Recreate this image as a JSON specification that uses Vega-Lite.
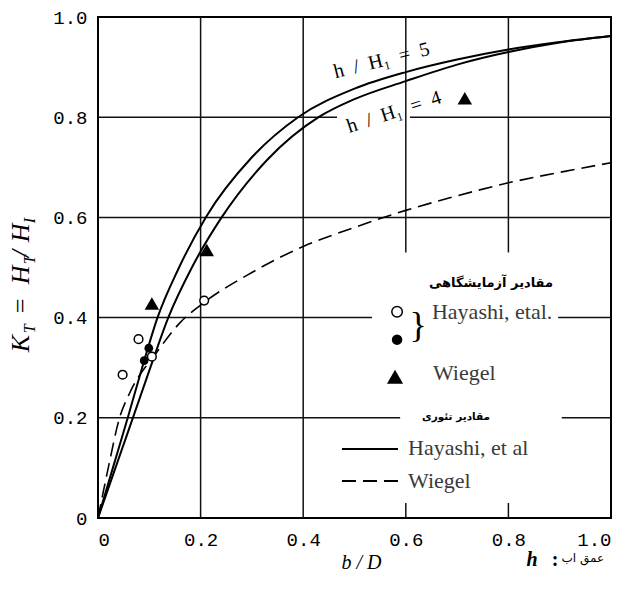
{
  "$schema": "https://vega.github.io/schema/vega-lite/v6.json",
  "autosize": {"type": "none"},
  "padding": {"left": 98, "top": 17, "right": 16, "bottom": 72},
  "width": 513,
  "height": 501,
  "background": "white",
  "config": {
    "view": {"stroke": "black", "strokeWidth": 2},
    "text": {"color": "black"}
  },
  "datasets": {
    "one": [{}],
    "grid": [
      {"x": 0.2, "x2": 0.2, "y": 0, "y2": 1},
      {"x": 0.4, "x2": 0.4, "y": 0, "y2": 1},
      {"x": 0.6, "x2": 0.6, "y": 0.53, "y2": 1},
      {"x": 0.6, "x2": 0.6, "y": 0, "y2": 0.03},
      {"x": 0.8, "x2": 0.8, "y": 0.53, "y2": 1},
      {"x": 0.8, "x2": 0.8, "y": 0, "y2": 0.03},
      {"x": 0, "x2": 0.589, "y": 0.2, "y2": 0.2},
      {"x": 0.904, "x2": 1, "y": 0.2, "y2": 0.2},
      {"x": 0, "x2": 0.534, "y": 0.4, "y2": 0.4},
      {"x": 0.897, "x2": 1, "y": 0.4, "y2": 0.4},
      {"x": 0, "x2": 1, "y": 0.6, "y2": 0.6},
      {"x": 0, "x2": 0.466, "y": 0.8, "y2": 0.8},
      {"x": 0.608, "x2": 1, "y": 0.8, "y2": 0.8}
    ],
    "hayashi_theory": [
      {"series": "h/H1=5", "x": 0, "y": 0},
      {"series": "h/H1=5", "x": 0.029, "y": 0.1},
      {"series": "h/H1=5", "x": 0.058, "y": 0.2},
      {"series": "h/H1=5", "x": 0.086, "y": 0.3},
      {"series": "h/H1=5", "x": 0.116, "y": 0.4},
      {"series": "h/H1=5", "x": 0.158, "y": 0.5},
      {"series": "h/H1=5", "x": 0.21, "y": 0.6},
      {"series": "h/H1=5", "x": 0.3, "y": 0.72},
      {"series": "h/H1=5", "x": 0.39, "y": 0.8},
      {"series": "h/H1=5", "x": 0.5, "y": 0.857},
      {"series": "h/H1=5", "x": 0.6, "y": 0.89},
      {"series": "h/H1=5", "x": 0.7, "y": 0.915},
      {"series": "h/H1=5", "x": 0.8, "y": 0.935},
      {"series": "h/H1=5", "x": 0.9, "y": 0.95},
      {"series": "h/H1=5", "x": 1.0, "y": 0.962},
      {"series": "h/H1=4", "x": 0, "y": 0},
      {"series": "h/H1=4", "x": 0.034, "y": 0.1},
      {"series": "h/H1=4", "x": 0.068, "y": 0.2},
      {"series": "h/H1=4", "x": 0.102, "y": 0.3},
      {"series": "h/H1=4", "x": 0.137, "y": 0.4},
      {"series": "h/H1=4", "x": 0.183, "y": 0.5},
      {"series": "h/H1=4", "x": 0.241, "y": 0.6},
      {"series": "h/H1=4", "x": 0.33, "y": 0.715},
      {"series": "h/H1=4", "x": 0.43, "y": 0.8},
      {"series": "h/H1=4", "x": 0.5, "y": 0.836},
      {"series": "h/H1=4", "x": 0.6, "y": 0.872},
      {"series": "h/H1=4", "x": 0.7, "y": 0.905},
      {"series": "h/H1=4", "x": 0.8, "y": 0.93},
      {"series": "h/H1=4", "x": 0.9, "y": 0.949},
      {"series": "h/H1=4", "x": 1.0, "y": 0.962}
    ],
    "wiegel_theory": [
      {"x": 0, "y": 0},
      {"x": 0.02, "y": 0.1},
      {"x": 0.042, "y": 0.2},
      {"x": 0.062, "y": 0.25},
      {"x": 0.114, "y": 0.33},
      {"x": 0.16, "y": 0.39},
      {"x": 0.2, "y": 0.425},
      {"x": 0.3, "y": 0.49},
      {"x": 0.4, "y": 0.542},
      {"x": 0.5, "y": 0.58},
      {"x": 0.6, "y": 0.614},
      {"x": 0.7, "y": 0.643},
      {"x": 0.8, "y": 0.669},
      {"x": 0.9, "y": 0.69},
      {"x": 1.0, "y": 0.709}
    ],
    "hayashi_open": [
      {"x": 0.048, "y": 0.286},
      {"x": 0.079, "y": 0.357},
      {"x": 0.105, "y": 0.322},
      {"x": 0.207, "y": 0.434}
    ],
    "hayashi_filled": [
      {"x": 0.099, "y": 0.339},
      {"x": 0.09, "y": 0.314}
    ],
    "wiegel_exp": [
      {"x": 0.105, "y": 0.428},
      {"x": 0.212, "y": 0.535},
      {"x": 0.715, "y": 0.838}
    ]
  },
  "layer": [
    {
      "data": {"name": "grid"},
      "mark": {"type": "rule", "stroke": "#111", "strokeWidth": 1.5},
      "encoding": {
        "x": {
          "field": "x", "type": "quantitative",
          "scale": {"domain": [0, 1], "nice": false, "zero": false},
          "axis": {
            "values": [0, 0.2, 0.4, 0.6, 0.8, 1],
            "labelExpr": "datum.value == 0 ? '0' : format(datum.value, '.1f')",
            "grid": false, "ticks": false, "domain": false,
            "labelFont": "Liberation Mono", "labelFontSize": 19, "labelColor": "black",
            "labelPadding": 12,
            "title": "b / D",
            "titleFont": "Liberation Serif", "titleFontStyle": "italic", "titleFontWeight": "normal",
            "titleFontSize": 20, "titleColor": "black", "titlePadding": 3, "titleX": 263
          }
        },
        "x2": {"field": "x2"},
        "y": {
          "field": "y", "type": "quantitative",
          "scale": {"domain": [0, 1], "nice": false, "zero": false},
          "axis": {
            "values": [0, 0.2, 0.4, 0.6, 0.8, 1],
            "labelExpr": "datum.value == 0 ? '0' : format(datum.value, '.1f')",
            "grid": false, "ticks": false, "domain": false,
            "labelFont": "Liberation Mono", "labelFontSize": 19, "labelColor": "black",
            "labelPadding": 11,
            "title": null
          }
        },
        "y2": {"field": "y2"}
      }
    },
    {
      "data": {"name": "wiegel_theory"},
      "mark": {"type": "line", "stroke": "black", "strokeWidth": 1.6, "strokeDash": [14, 7], "interpolate": "monotone"},
      "encoding": {
        "x": {"field": "x", "type": "quantitative", "scale": {"domain": [0, 1]}},
        "y": {"field": "y", "type": "quantitative", "scale": {"domain": [0, 1]}}
      }
    },
    {
      "data": {"name": "hayashi_theory"},
      "mark": {"type": "line", "stroke": "black", "strokeWidth": 2, "interpolate": "monotone"},
      "encoding": {
        "x": {"field": "x", "type": "quantitative", "scale": {"domain": [0, 1]}},
        "y": {"field": "y", "type": "quantitative", "scale": {"domain": [0, 1]}},
        "detail": {"field": "series"}
      }
    },
    {
      "data": {"name": "hayashi_open"},
      "mark": {"type": "point", "shape": "circle", "filled": false, "fill": "white", "stroke": "black", "strokeWidth": 1.5, "size": 75, "opacity": 1},
      "encoding": {
        "x": {"field": "x", "type": "quantitative", "scale": {"domain": [0, 1]}},
        "y": {"field": "y", "type": "quantitative", "scale": {"domain": [0, 1]}}
      }
    },
    {
      "data": {"name": "hayashi_filled"},
      "mark": {"type": "point", "shape": "circle", "filled": true, "fill": "black", "size": 75, "opacity": 1},
      "encoding": {
        "x": {"field": "x", "type": "quantitative", "scale": {"domain": [0, 1]}},
        "y": {"field": "y", "type": "quantitative", "scale": {"domain": [0, 1]}}
      }
    },
    {
      "data": {"name": "wiegel_exp"},
      "mark": {"type": "point", "shape": "triangle-up", "filled": true, "fill": "black", "size": 210, "opacity": 1},
      "encoding": {
        "x": {"field": "x", "type": "quantitative", "scale": {"domain": [0, 1]}},
        "y": {"field": "y", "type": "quantitative", "scale": {"domain": [0, 1]}}
      }
    },
    {
      "data": {"name": "one"},
      "mark": {"type": "text", "text": "h\u2002/\u2002H₁\u2002=\u20025", "font": "Liberation Serif", "fontSize": 20, "angle": 346, "align": "center", "baseline": "middle"},
      "encoding": {"x": {"datum": 0.553, "scale": {"domain": [0, 1]}}, "y": {"datum": 0.913, "scale": {"domain": [0, 1]}}}
    },
    {
      "data": {"name": "one"},
      "mark": {"type": "text", "text": "h\u2002/\u2002H₁\u2002=\u20024", "font": "Liberation Serif", "fontSize": 20, "angle": 342, "align": "center", "baseline": "middle"},
      "encoding": {"x": {"datum": 0.577, "scale": {"domain": [0, 1]}}, "y": {"datum": 0.81, "scale": {"domain": [0, 1]}}}
    },
    {
      "data": {"name": "one"},
      "mark": {"type": "text", "text": "مقادیر آزمایشگاهی", "font": "DejaVu Sans", "fontSize": 13, "fontWeight": "bold", "dir": "rtl", "align": "center", "baseline": "middle"},
      "encoding": {"x": {"datum": 0.766, "scale": {"domain": [0, 1]}}, "y": {"datum": 0.4695, "scale": {"domain": [0, 1]}}}
    },
    {
      "data": {"name": "one"},
      "mark": {"type": "point", "shape": "circle", "filled": false, "fill": "white", "stroke": "black", "strokeWidth": 1.5, "size": 110, "opacity": 1},
      "encoding": {"x": {"datum": 0.583, "scale": {"domain": [0, 1]}}, "y": {"datum": 0.4116, "scale": {"domain": [0, 1]}}}
    },
    {
      "data": {"name": "one"},
      "mark": {"type": "point", "shape": "circle", "filled": true, "fill": "black", "size": 110, "opacity": 1},
      "encoding": {"x": {"datum": 0.583, "scale": {"domain": [0, 1]}}, "y": {"datum": 0.356, "scale": {"domain": [0, 1]}}}
    },
    {
      "data": {"name": "one"},
      "mark": {"type": "text", "text": "}", "font": "Liberation Serif", "fontSize": 36, "align": "center", "baseline": "middle"},
      "encoding": {"x": {"datum": 0.624, "scale": {"domain": [0, 1]}}, "y": {"datum": 0.3836, "scale": {"domain": [0, 1]}}}
    },
    {
      "data": {"name": "one"},
      "mark": {"type": "text", "text": "Hayashi, etal.", "font": "Liberation Serif", "fontSize": 22, "color": "#3a3a3a", "align": "left", "baseline": "middle"},
      "encoding": {"x": {"datum": 0.651, "scale": {"domain": [0, 1]}}, "y": {"datum": 0.4116, "scale": {"domain": [0, 1]}}}
    },
    {
      "data": {"name": "one"},
      "mark": {"type": "point", "shape": "triangle-up", "filled": true, "fill": "black", "size": 260, "opacity": 1},
      "encoding": {"x": {"datum": 0.579, "scale": {"domain": [0, 1]}}, "y": {"datum": 0.282, "scale": {"domain": [0, 1]}}}
    },
    {
      "data": {"name": "one"},
      "mark": {"type": "text", "text": "Wiegel", "font": "Liberation Serif", "fontSize": 22, "color": "#3a3a3a", "align": "left", "baseline": "middle"},
      "encoding": {"x": {"datum": 0.653, "scale": {"domain": [0, 1]}}, "y": {"datum": 0.2897, "scale": {"domain": [0, 1]}}}
    },
    {
      "data": {"name": "one"},
      "mark": {"type": "text", "text": "مقادیر تئوری", "font": "DejaVu Sans", "fontSize": 10.5, "fontWeight": "bold", "dir": "rtl", "align": "center", "baseline": "middle"},
      "encoding": {"x": {"datum": 0.698, "scale": {"domain": [0, 1]}}, "y": {"datum": 0.2018, "scale": {"domain": [0, 1]}}}
    },
    {
      "data": {"name": "one"},
      "mark": {"type": "rule", "stroke": "black", "strokeWidth": 2},
      "encoding": {"x": {"datum": 0.4756, "scale": {"domain": [0, 1]}}, "x2": {"datum": 0.5848}, "y": {"datum": 0.1379, "scale": {"domain": [0, 1]}}}
    },
    {
      "data": {"name": "one"},
      "mark": {"type": "text", "text": "Hayashi, et al", "font": "Liberation Serif", "fontSize": 22, "color": "#3a3a3a", "align": "left", "baseline": "middle"},
      "encoding": {"x": {"datum": 0.6043, "scale": {"domain": [0, 1]}}, "y": {"datum": 0.1399, "scale": {"domain": [0, 1]}}}
    },
    {
      "data": {"name": "one"},
      "mark": {"type": "rule", "stroke": "black", "strokeWidth": 2, "strokeDash": [14, 7]},
      "encoding": {"x": {"datum": 0.4756, "scale": {"domain": [0, 1]}}, "x2": {"datum": 0.5848}, "y": {"datum": 0.0739, "scale": {"domain": [0, 1]}}}
    },
    {
      "data": {"name": "one"},
      "mark": {"type": "text", "text": "Wiegel", "font": "Liberation Serif", "fontSize": 22, "color": "#3a3a3a", "align": "left", "baseline": "middle"},
      "encoding": {"x": {"datum": 0.6043, "scale": {"domain": [0, 1]}}, "y": {"datum": 0.074, "scale": {"domain": [0, 1]}}}
    },
    {
      "data": {"name": "one"},
      "mark": {"type": "text", "text": "h", "font": "Liberation Serif", "fontSize": 20, "fontStyle": "italic", "fontWeight": "bold", "align": "center", "baseline": "middle"},
      "encoding": {"x": {"datum": 0.846, "scale": {"domain": [0, 1]}}, "y": {"datum": -0.084, "scale": {"domain": [0, 1]}}}
    },
    {
      "data": {"name": "one"},
      "mark": {"type": "text", "text": ":", "font": "Liberation Serif", "fontSize": 20, "fontWeight": "bold", "align": "center", "baseline": "middle"},
      "encoding": {"x": {"datum": 0.891, "scale": {"domain": [0, 1]}}, "y": {"datum": -0.084, "scale": {"domain": [0, 1]}}}
    },
    {
      "data": {"name": "one"},
      "mark": {"type": "text", "text": "عمق اب", "font": "DejaVu Sans", "fontSize": 12, "dir": "rtl", "align": "center", "baseline": "middle"},
      "encoding": {"x": {"datum": 0.945, "scale": {"domain": [0, 1]}}, "y": {"datum": -0.08, "scale": {"domain": [0, 1]}}}
    },
    {
      "data": {"name": "one"},
      "mark": {"type": "text", "text": "K", "font": "Liberation Serif", "fontSize": 26, "fontStyle": "italic", "angle": 270, "align": "left", "baseline": "alphabetic", "dx": 0},
      "encoding": {"x": {"datum": -0.1345, "scale": {"domain": [0, 1]}}, "y": {"datum": 0.331, "scale": {"domain": [0, 1]}}}
    },
    {
      "data": {"name": "one"},
      "mark": {"type": "text", "text": "T", "font": "Liberation Serif", "fontSize": 16, "fontStyle": "italic", "angle": 270, "align": "left", "baseline": "alphabetic", "dx": 19, "dy": 6},
      "encoding": {"x": {"datum": -0.1345, "scale": {"domain": [0, 1]}}, "y": {"datum": 0.331, "scale": {"domain": [0, 1]}}}
    },
    {
      "data": {"name": "one"},
      "mark": {"type": "text", "text": "=", "font": "Liberation Serif", "fontSize": 26, "angle": 270, "align": "left", "baseline": "alphabetic", "dx": 39},
      "encoding": {"x": {"datum": -0.1345, "scale": {"domain": [0, 1]}}, "y": {"datum": 0.331, "scale": {"domain": [0, 1]}}}
    },
    {
      "data": {"name": "one"},
      "mark": {"type": "text", "text": "H", "font": "Liberation Serif", "fontSize": 26, "fontStyle": "italic", "angle": 270, "align": "left", "baseline": "alphabetic", "dx": 68},
      "encoding": {"x": {"datum": -0.1345, "scale": {"domain": [0, 1]}}, "y": {"datum": 0.331, "scale": {"domain": [0, 1]}}}
    },
    {
      "data": {"name": "one"},
      "mark": {"type": "text", "text": "T", "font": "Liberation Serif", "fontSize": 16, "fontStyle": "italic", "angle": 270, "align": "left", "baseline": "alphabetic", "dx": 88, "dy": 6},
      "encoding": {"x": {"datum": -0.1345, "scale": {"domain": [0, 1]}}, "y": {"datum": 0.331, "scale": {"domain": [0, 1]}}}
    },
    {
      "data": {"name": "one"},
      "mark": {"type": "text", "text": "/", "font": "Liberation Serif", "fontSize": 26, "fontStyle": "italic", "angle": 270, "align": "left", "baseline": "alphabetic", "dx": 95},
      "encoding": {"x": {"datum": -0.1345, "scale": {"domain": [0, 1]}}, "y": {"datum": 0.331, "scale": {"domain": [0, 1]}}}
    },
    {
      "data": {"name": "one"},
      "mark": {"type": "text", "text": "H", "font": "Liberation Serif", "fontSize": 26, "fontStyle": "italic", "angle": 270, "align": "left", "baseline": "alphabetic", "dx": 110},
      "encoding": {"x": {"datum": -0.1345, "scale": {"domain": [0, 1]}}, "y": {"datum": 0.331, "scale": {"domain": [0, 1]}}}
    },
    {
      "data": {"name": "one"},
      "mark": {"type": "text", "text": "I", "font": "Liberation Serif", "fontSize": 16, "fontStyle": "italic", "angle": 270, "align": "left", "baseline": "alphabetic", "dx": 129, "dy": 6},
      "encoding": {"x": {"datum": -0.1345, "scale": {"domain": [0, 1]}}, "y": {"datum": 0.331, "scale": {"domain": [0, 1]}}}
    }
  ]
}
